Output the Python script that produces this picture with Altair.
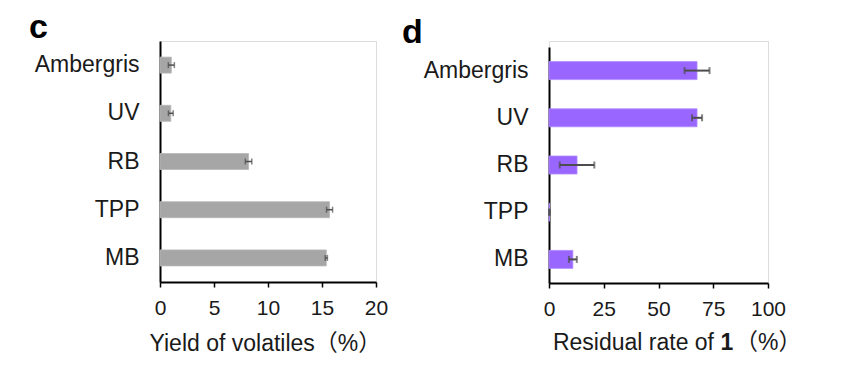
import altair as alt
import pandas as pd

categories = ["Ambergris", "UV", "RB", "TPP", "MB"]
yield_values = [1.05, 1.0, 8.2, 15.7, 15.4]
yield_errors = [0.28, 0.22, 0.3, 0.28, 0.1]
residual_values = [67.6, 67.6, 12.8, 0.2, 10.9]
residual_errors = [5.7, 2.3, 7.9, 0.2, 1.8]
yield_ticks = [0, 5, 10, 15, 20]
residual_ticks = [0, 25, 50, 75, 100]

FONT = "Liberation Sans, Arial, Noto Sans CJK SC, sans-serif"
ERR = "#4d4d4d"


def make_df(vals, errs):
    return pd.DataFrame({
        "cat": categories,
        "v": vals,
        "lo": [v - e for v, e in zip(vals, errs)],
        "hi": [v + e for v, e in zip(vals, errs)],
    })


def panel(data, xmax, ticks, color, stroke, width, height, bar_size, letter,
          letter_x, letter_y, xtitle, yrange=None, cap=6, errw=2):
    sc = dict(domain=categories, paddingInner=0, paddingOuter=0)
    if yrange is not None:
        sc["range"] = yrange
    y = alt.Y("cat:N", sort=categories, scale=alt.Scale(**sc),
              axis=alt.Axis(title=None, ticks=False, labelFontSize=23,
                            labelPadding=21, labelColor="#1a1a1a",
                            labelFont=FONT, domainColor="black",
                            domainWidth=2))
    xaxis = dict(values=ticks, labelFontSize=21, labelFont=FONT,
                 labelColor="#1a1a1a", tickSize=5, tickWidth=1.5,
                 tickColor="black", domainColor="black", domainWidth=2,
                 labelPadding=10, grid=False, labelFlush=False)
    if xtitle:
        xaxis.update(title=xtitle, titleFontSize=23, titleFont=FONT,
                     titleFontWeight="normal", titleColor="#1a1a1a",
                     titlePadding=14, titleX=-11, titleAlign="left",
                     titleAnchor="start")
    else:
        xaxis.update(title=None)
    x = alt.X("v:Q", scale=alt.Scale(domain=[0, xmax], nice=False, zero=True),
              axis=alt.Axis(**xaxis))
    base = alt.Chart(data)
    bars = base.mark_bar(size=bar_size, color=color, stroke=stroke,
                         strokeWidth=0.8).encode(x=x, y=y)
    rule = base.mark_rule(color=ERR, strokeWidth=errw).encode(
        x="lo:Q", x2="hi:Q", y=alt.Y("cat:N", sort=categories))
    caps = base.transform_fold(["lo", "hi"], as_=["k", "e"]).mark_tick(
        color=ERR, size=cap, thickness=errw, orient="vertical").encode(
        x="e:Q", y=alt.Y("cat:N", sort=categories))
    lab = alt.Chart(pd.DataFrame({"t": [letter]})).mark_text(
        align="left", baseline="alphabetic", fontSize=34, fontWeight="bold",
        font=FONT, color="black").encode(
        text="t:N", x=alt.value(letter_x), y=alt.value(letter_y))
    return alt.layer(bars, rule, caps, lab).properties(width=width, height=height)


c = panel(make_df(yield_values, yield_errors), 20, yield_ticks, "#a6a6a6",
          "#b8b8b8", 216, 241, 16, "c", -131, -3,
          "Yield of volatiles\uff08%\uff09", cap=6, errw=1.5)

d_core = panel(make_df(residual_values, residual_errors), 100, residual_ticks,
               "#9966ff", "#b08cff", 219, 242, 18, "d", -147, 2, None,
               yrange=[6, 242], cap=7, errw=2)

title_parts = pd.DataFrame({
    "t": ["Residual rate of", "1", "\uff08%\uff09"],
})
t1 = alt.Chart(title_parts.iloc[[0]]).mark_text(
    align="right", baseline="middle", fontSize=23, font=FONT,
    color="#1a1a1a").encode(text="t:N", x=alt.value(165), y=alt.value(302))
t2 = alt.Chart(title_parts.iloc[[1]]).mark_text(
    align="center", baseline="middle", fontSize=23, font=FONT,
    fontWeight="bold", color="#1a1a1a").encode(
    text="t:N", x=alt.value(178), y=alt.value(302))
t3 = alt.Chart(title_parts.iloc[[2]]).mark_text(
    align="left", baseline="middle", fontSize=23, font=FONT,
    color="#1a1a1a").encode(text="t:N", x=alt.value(186), y=alt.value(302))

d = alt.layer(d_core, t1, t2, t3)

chart = alt.hconcat(c, d, spacing=12).properties(
    padding={"left": 20, "top": 2, "right": 0, "bottom": 0}
).configure_view(stroke=None).configure(background="white")

chart.save("out.html", embed_options={"renderer": "svg", "actions": False})
